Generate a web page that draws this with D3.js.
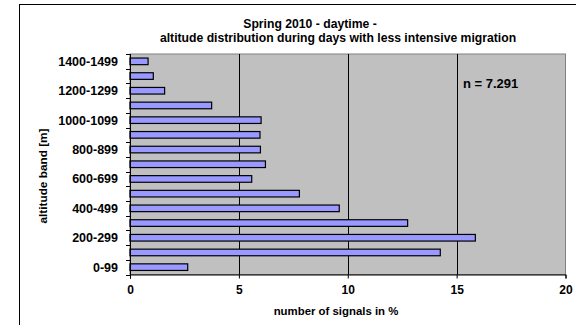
<!DOCTYPE html>
<html><head><meta charset="utf-8">
<script src="https://cdn.jsdelivr.net/npm/d3@7"></script>
<style>
body{margin:0;background:#fff;}
svg text{font-family:"Liberation Sans",Arial,sans-serif;font-weight:bold;fill:#000;}
</style></head>
<body><svg id="c" width="576" height="325"></svg>
<script>
const categories = ["0-99","100-199","200-299","300-399","400-499","500-599","600-699","700-799","800-899","900-999","1000-1099","1100-1199","1200-1299","1300-1399","1400-1499"];
const values = [2.65,14.25,15.86,12.75,9.61,7.78,5.59,6.22,5.99,5.97,6.02,3.75,1.59,1.07,0.83];
const xTicks = [0,5,10,15,20];
const yTickLabels = ["0-99","200-299","400-499","600-699","800-899","1000-1099","1200-1299","1400-1499"];
const titleLines = ["Spring 2010 - daytime -","altitude distribution during days with less intensive migration"];
const nLabel = "n = 7.291";
const xTitle = "number of signals in %";
const yTitle = "altitude band [m]";

const svg = d3.select("#c");
const L = 130, R = 565.5, T = 54, B = 274.5;

// outer frame
svg.append("rect").attr("x",19.5).attr("y",4.5).attr("width",620).attr("height",400)
  .attr("fill","#fff").attr("stroke","#000").attr("stroke-width",1);

const x = d3.scaleLinear().domain([0,20]).range([L,R]);
const y = d3.scaleBand().domain(categories.slice().reverse()).range([T,B])
  .paddingInner(0.55).paddingOuter(0.275);

// plot area
svg.append("rect").attr("x",L).attr("y",T).attr("width",R-L).attr("height",B-T)
  .attr("fill","#c0c0c0").attr("stroke","#808080").attr("stroke-width",1);

// gridlines
svg.append("g").selectAll("line").data(xTicks.filter(d=>d>0 && d<20)).join("line")
  .attr("x1",d=>Math.round(x(d))+0.5).attr("x2",d=>Math.round(x(d))+0.5)
  .attr("y1",T).attr("y2",B).attr("stroke","#000").attr("stroke-width",1);

// bars
svg.append("g").selectAll("rect").data(categories).join("rect")
  .attr("x",x(0)).attr("y",d=>y(d))
  .attr("width",(d,i)=>x(values[i])-x(0)).attr("height",y.bandwidth())
  .attr("fill","#9999ff").attr("stroke","#000").attr("stroke-width",1.2);

// x axis
const xAxis = d3.axisBottom(x).tickValues(xTicks).tickSize(4).tickPadding(5);
const gx = svg.append("g").attr("transform",`translate(0,${B})`).call(xAxis);
gx.select(".domain").attr("stroke","#000");
gx.selectAll(".tick line").attr("stroke","#000");
gx.selectAll("text").style("font-size","12px").attr("dy","0.85em");

// y axis: ticks at band boundaries
const step = y.step();
const boundaries = categories.map(c=>y(c)-(step-y.bandwidth())/2).concat([B]);
svg.append("line").attr("x1",L+0.5).attr("x2",L+0.5).attr("y1",T).attr("y2",B+4).attr("stroke","#000");
svg.append("g").selectAll("line").data(boundaries).join("line")
  .attr("x1",L-4).attr("x2",L).attr("y1",d=>Math.round(d)+0.5).attr("y2",d=>Math.round(d)+0.5)
  .attr("stroke","#000");
svg.append("g").selectAll("text").data(yTickLabels).join("text")
  .attr("x",L-12).attr("y",d=>y(d)+y.bandwidth()/2).attr("dy","0.35em")
  .attr("text-anchor","end").style("font-size","12.5px").text(d=>d);

// titles
svg.append("text").attr("x",310).attr("y",28).attr("text-anchor","middle").style("font-size","12.2px").text(titleLines[0]);
svg.append("text").attr("x",338).attr("y",42).attr("text-anchor","middle").style("font-size","12.2px").text(titleLines[1]);
svg.append("text").attr("x",463).attr("y",88).style("font-size","13px").text(nLabel);
svg.append("text").attr("x",336).attr("y",315).attr("text-anchor","middle").style("font-size","11.4px").text(xTitle);
svg.append("text").attr("transform","translate(47,176) rotate(-90)").attr("text-anchor","middle").style("font-size","11.8px").text(yTitle);
</script></body></html>
